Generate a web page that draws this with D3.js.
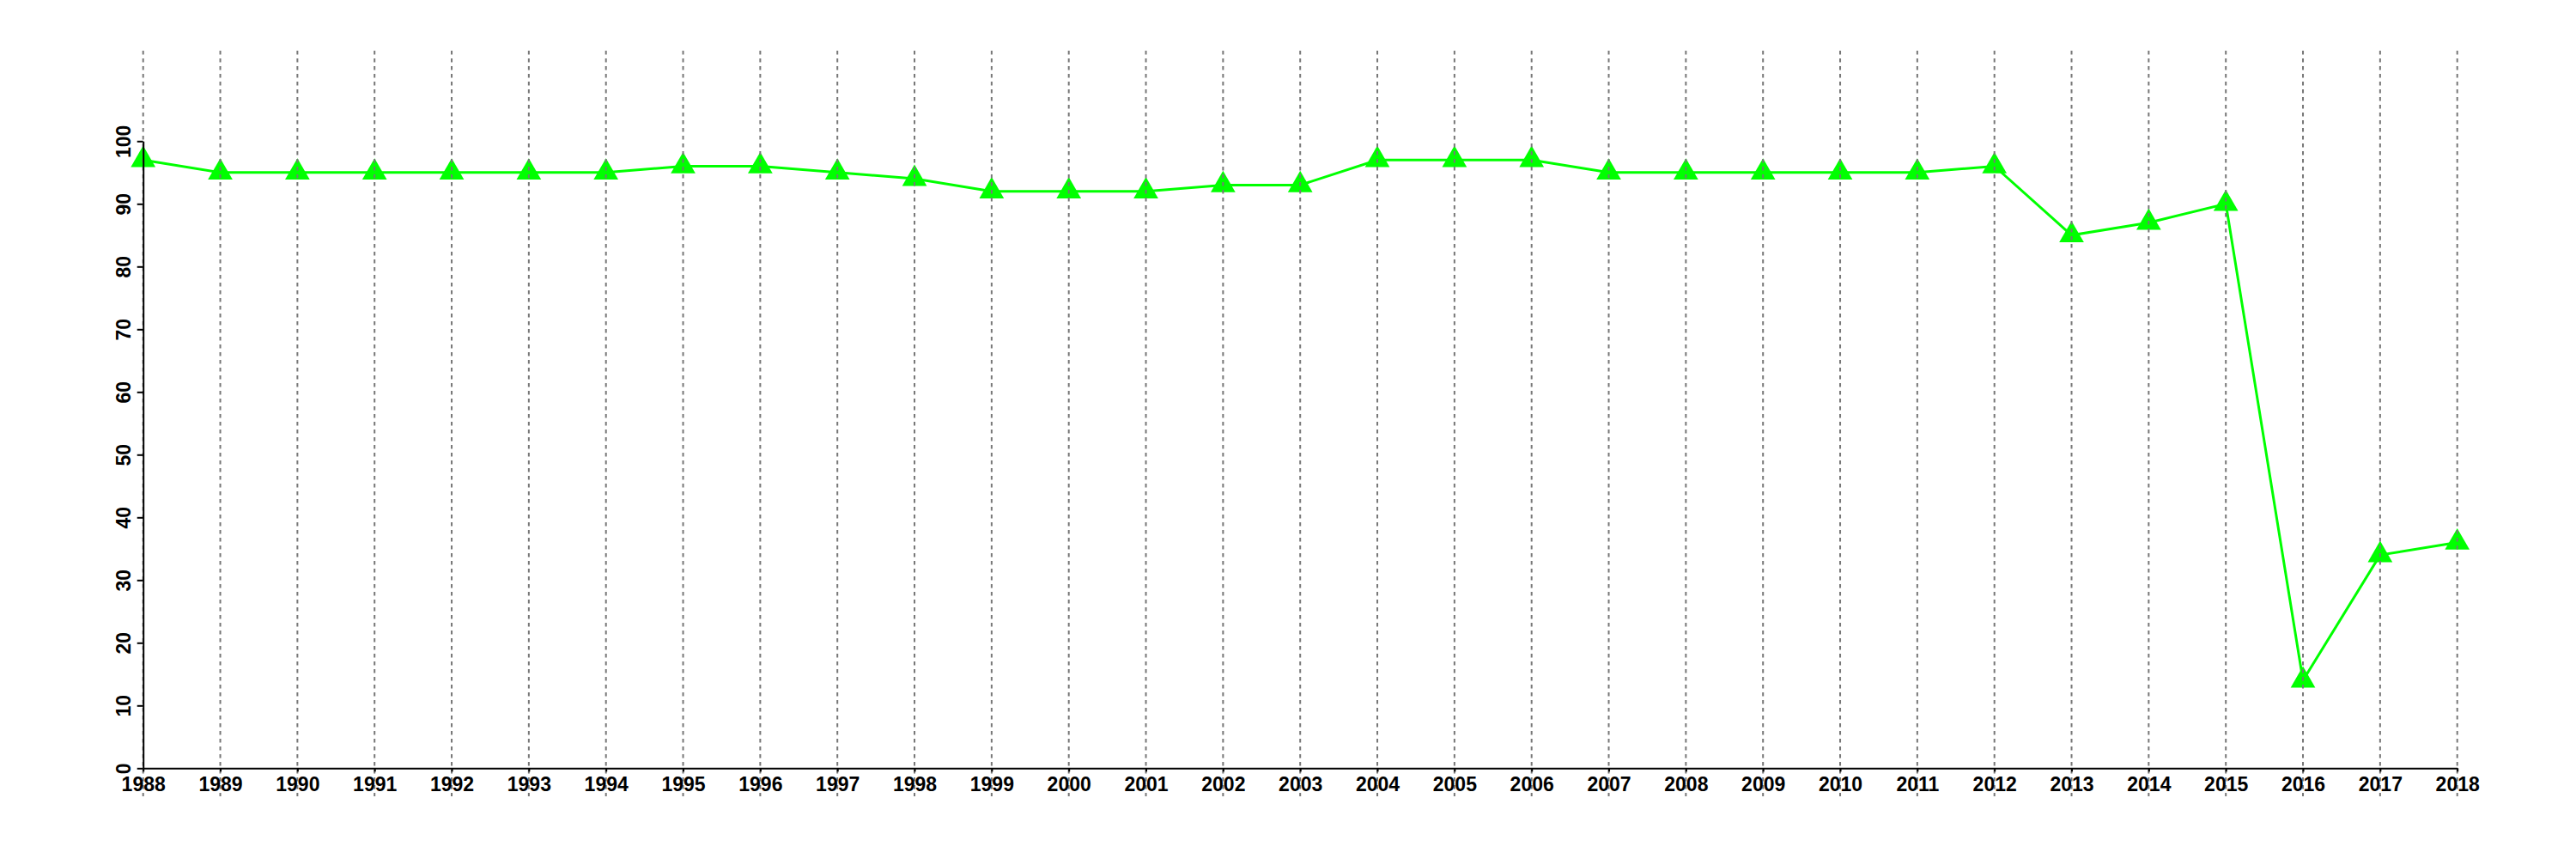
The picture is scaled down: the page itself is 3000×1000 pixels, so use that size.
<!DOCTYPE html>
<html>
<head>
<meta charset="utf-8">
<script src="https://cdn.jsdelivr.net/npm/d3@7"></script>
<style>
  html, body { margin: 0; padding: 0; background: #fff; }
  svg { display: block; }
  text { font-family: "Liberation Sans", Arial, Helvetica, sans-serif; font-weight: bold; }
</style>
</head>
<body>
<svg id="chart" width="3000" height="1000"></svg>
<script>
const years = [1988,1989,1990,1991,1992,1993,1994,1995,1996,1997,1998,1999,2000,2001,2002,2003,2004,2005,2006,2007,2008,2009,2010,2011,2012,2013,2014,2015,2016,2017,2018];
const values = [97,95,95,95,95,95,95,96,96,95,94,92,92,92,93,93,97,97,97,95,95,95,95,95,96,85,87,90,14,34,36];
const yTicks = [0,10,20,30,40,50,60,70,80,90,100];

const svg = d3.select("#chart");
svg.append("rect").attr("width", 3000).attr("height", 1000).attr("fill", "#fff");

const x = d3.scaleLinear().domain([1988, 2018]).range([166.7, 2861.7]);
const y = d3.scaleLinear().domain([0, 100]).range([894.3, 164.3]);

const data = years.map((yr, i) => ({ yr, v: values[i] }));

// series line
svg.append("path")
  .datum(data)
  .attr("fill", "none")
  .attr("stroke", "#00ff00")
  .attr("stroke-width", 3)
  .attr("d", d3.line().x(d => x(d.yr)).y(d => y(d.v)));

// markers
svg.append("g").selectAll("path")
  .data(data)
  .join("path")
  .attr("transform", d => `translate(${x(d.yr)},${y(d.v)})`)
  .attr("d", d3.symbol(d3.symbolTriangle, 357))
  .attr("fill", "#00ff00");

// vertical dotted grid lines
svg.append("g").selectAll("line")
  .data(years)
  .join("line")
  .attr("x1", d => x(d)).attr("x2", d => x(d))
  .attr("y1", 59).attr("y2", 927)
  .attr("stroke", "#777")
  .attr("stroke-width", 2)
  .attr("stroke-dasharray", "4.5,4.5");

// x axis
const xAxis = svg.append("g")
  .attr("transform", `translate(0,${y(0)})`)
  .call(d3.axisBottom(x).tickValues(years).tickFormat(d3.format("d")).tickSize(4).tickSizeOuter(0));
xAxis.select(".domain").attr("stroke", "#000").attr("stroke-width", 2);
xAxis.selectAll(".tick line").attr("stroke", "#000").attr("stroke-width", 2);
xAxis.selectAll(".tick text")
  .attr("y", 26.5).attr("dy", 0)
  .attr("fill", "#000")
  .style("font-size", "23px");

// y axis
const yAxis = svg.append("g")
  .attr("transform", `translate(${x(1988)},0)`)
  .call(d3.axisLeft(y).tickValues(yTicks).tickFormat(d3.format("d")).tickSize(7).tickSizeOuter(0));
yAxis.select(".domain").attr("stroke", "#000").attr("stroke-width", 2);
yAxis.selectAll(".tick line").attr("stroke", "#000").attr("stroke-width", 2);
yAxis.selectAll(".tick text")
  .attr("x", 0).attr("y", 0).attr("dy", 0)
  .attr("text-anchor", "middle")
  .attr("transform", "translate(-15,0) rotate(-90)")
  .attr("fill", "#000")
  .style("font-size", "23px");
</script>
</body>
</html>
